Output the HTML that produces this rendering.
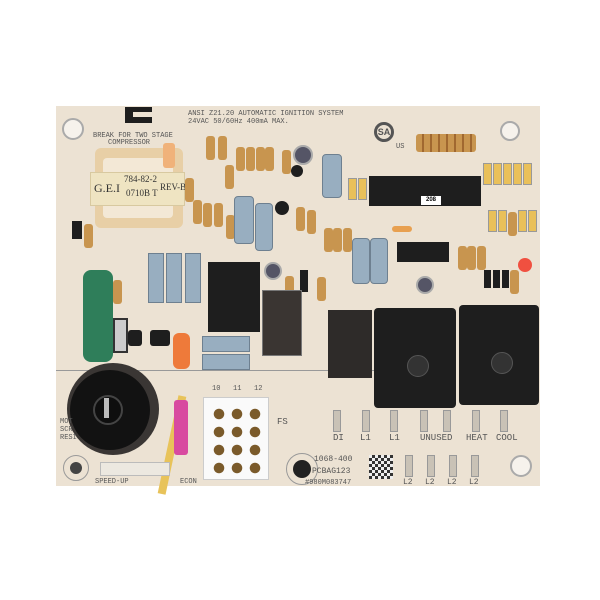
<!DOCTYPE html>
<html><head><style>
body{margin:0;width:600px;height:600px;background:#fff;position:relative;overflow:hidden;font-family:"Liberation Mono",monospace}
div{position:absolute;box-sizing:border-box}
.r{background:#c8954f;border-radius:3px}
.rv{width:9px;height:24px}
.rh{width:24px;height:9px}
.b{background:#98aec0;border:1px solid #6e8090}
.blk{background:#1e1e1e}
.t{font-size:8px;color:#555;white-space:nowrap}
.hole{border-radius:50%;border:2px solid #aaa;background:#f6f2ec}
.pin{width:8px;height:22px;background:#c9c2b6;border:1px solid #999}
.y{background:#e9c05a;width:9px;height:22px;border:1px solid #999}
</style></head><body>
<div style="left:56px;top:106px;width:484px;height:380px;background:#ece2d3"></div>
<div class="hole" style="left:62px;top:118px;width:22px;height:22px"></div>
<div class="hole" style="left:500px;top:121px;width:20px;height:20px"></div>
<div class="hole" style="left:510px;top:455px;width:22px;height:22px"></div>
<div style="left:286px;top:453px;width:32px;height:32px;border-radius:50%;border:1px solid #999"></div>
<div style="left:293px;top:460px;width:18px;height:18px;border-radius:50%;background:#222"></div>
<div style="left:63px;top:455px;width:26px;height:26px;border-radius:50%;border:1px solid #999"></div>
<div style="left:70px;top:462px;width:12px;height:12px;border-radius:50%;background:#444"></div>
<div class="t" style="left:188px;top:110px;font-size:7px">ANSI Z21.20 AUTOMATIC IGNITION SYSTEM</div>
<div class="t" style="left:188px;top:118px;font-size:7px">24VAC 50/60Hz 400mA MAX.</div>
<div class="t" style="left:93px;top:132px;font-size:7px">BREAK FOR TWO STAGE</div>
<div class="t" style="left:108px;top:139px;font-size:7px">COMPRESSOR</div>
<div class="blk" style="left:125px;top:107px;width:27px;height:16px"></div>
<div style="left:133px;top:112px;width:19px;height:5px;background:#ece2d3"></div>
<div style="left:95px;top:148px;width:88px;height:80px;background:#e8cfa6;border-radius:6px"></div>
<div style="left:103px;top:158px;width:70px;height:60px;background:#f3e8d6;border-radius:4px"></div>
<div style="left:90px;top:172px;width:95px;height:34px;background:#efe4c2;border:1px solid #d8c9a0"></div>
<div style="left:94px;top:181px;font:12px 'Liberation Serif',serif;color:#333">G.E.I</div>
<div style="left:124px;top:174px;font:9px 'Liberation Serif',serif;color:#333">784-82-2</div>
<div style="left:126px;top:188px;font:9px 'Liberation Serif',serif;color:#333">0710B T</div>
<div style="left:160px;top:182px;font:9px 'Liberation Serif',serif;color:#333">REV-B</div>
<div style="left:163px;top:143px;width:12px;height:25px;background:#f0b27a;border-radius:3px"></div>
<div class="r rv" style="left:206px;top:136px"></div><div class="r rv" style="left:218px;top:136px"></div>
<div class="r rv" style="left:236px;top:147px"></div><div class="r rv" style="left:246px;top:147px"></div><div class="r rv" style="left:256px;top:147px"></div><div class="r rv" style="left:265px;top:147px"></div>
<div class="r rv" style="left:225px;top:165px"></div>
<div class="r rv" style="left:282px;top:150px"></div>
<div class="r rv" style="left:193px;top:200px"></div><div class="r rv" style="left:203px;top:203px"></div><div class="r rv" style="left:214px;top:203px"></div>
<div class="r rv" style="left:226px;top:215px"></div>
<div class="r rv" style="left:185px;top:178px"></div>
<div class="b" style="left:234px;top:196px;width:20px;height:48px;border-radius:4px"></div>
<div class="b" style="left:255px;top:203px;width:18px;height:48px;border-radius:4px"></div>
<div class="blk" style="left:275px;top:201px;width:14px;height:14px;border-radius:50%"></div>
<div style="left:293px;top:145px;width:20px;height:20px;border-radius:50%;background:#556;border:2px solid #aaa"></div>
<div class="blk" style="left:291px;top:165px;width:12px;height:12px;border-radius:50%"></div>
<div class="b" style="left:322px;top:154px;width:20px;height:44px;border-radius:4px"></div>
<div class="y" style="left:348px;top:178px"></div><div class="y" style="left:358px;top:178px"></div>
<div class="r rv" style="left:296px;top:207px"></div><div class="r rv" style="left:307px;top:210px"></div><div class="r rv" style="left:324px;top:228px"></div><div class="r rv" style="left:333px;top:228px"></div><div class="r rv" style="left:343px;top:228px"></div><div class="r rv" style="left:317px;top:277px"></div>
<div class="blk" style="left:300px;top:270px;width:8px;height:22px"></div>
<div class="r rv" style="left:285px;top:276px"></div>
<div style="left:374px;top:122px;width:20px;height:20px;border:3px solid #555;border-radius:50%;font:bold 9px 'Liberation Sans',sans-serif;color:#555;text-align:center;line-height:14px">SA</div>
<div class="t" style="left:396px;top:143px;font-size:7px">US</div>
<div style="left:416px;top:134px;width:60px;height:18px;background:#c8954f;border-radius:3px;background-image:repeating-linear-gradient(90deg,#c8954f 0 6px,#a06830 6px 8px)"></div>
<div class="y" style="left:483px;top:163px"></div><div class="y" style="left:493px;top:163px"></div><div class="y" style="left:503px;top:163px"></div><div class="y" style="left:513px;top:163px"></div><div class="y" style="left:523px;top:163px"></div>
<div class="y" style="left:488px;top:210px"></div><div class="y" style="left:498px;top:210px"></div><div class="r rv" style="left:508px;top:212px"></div><div class="y" style="left:518px;top:210px"></div><div class="y" style="left:528px;top:210px"></div>
<div class="blk" style="left:369px;top:176px;width:112px;height:30px"></div>
<div style="left:421px;top:196px;width:20px;height:9px;background:#fff;font:bold 6px 'Liberation Sans',sans-serif;text-align:center;line-height:9px">208</div>
<div style="left:392px;top:226px;width:20px;height:6px;background:#e8a050;border-radius:3px"></div>
<div class="blk" style="left:397px;top:242px;width:52px;height:20px"></div>
<div class="r rv" style="left:458px;top:246px"></div><div class="r rv" style="left:467px;top:246px"></div><div class="r rv" style="left:477px;top:246px"></div>
<div style="left:518px;top:258px;width:14px;height:14px;border-radius:50%;background:#f05040"></div>
<div class="blk" style="left:484px;top:270px;width:7px;height:18px"></div><div class="blk" style="left:493px;top:270px;width:7px;height:18px"></div><div class="blk" style="left:502px;top:270px;width:7px;height:18px"></div><div class="r rv" style="left:510px;top:270px"></div>
<div class="b" style="left:352px;top:238px;width:18px;height:46px;border-radius:4px"></div>
<div class="b" style="left:370px;top:238px;width:18px;height:46px;border-radius:4px"></div>
<div style="left:416px;top:276px;width:18px;height:18px;border-radius:50%;background:#556;border:2px solid #aaa"></div>
<div style="left:264px;top:262px;width:18px;height:18px;border-radius:50%;background:#556;border:2px solid #aaa"></div>
<div class="blk" style="left:72px;top:221px;width:10px;height:18px"></div><div class="r rv" style="left:84px;top:224px"></div>
<div class="b" style="left:148px;top:253px;width:16px;height:50px"></div>
<div class="b" style="left:166px;top:253px;width:16px;height:50px"></div>
<div class="b" style="left:185px;top:253px;width:16px;height:50px"></div>
<div class="r rv" style="left:113px;top:280px"></div>
<div class="blk" style="left:208px;top:262px;width:52px;height:70px"></div>
<div style="left:262px;top:290px;width:40px;height:66px;background:#3a3532;border:1px solid #777"></div>
<div style="left:83px;top:270px;width:30px;height:92px;background:#2f7e5a;border-radius:8px"></div>
<div style="left:113px;top:318px;width:15px;height:35px;background:#ccc;border:2px solid #333"></div>
<div class="blk" style="left:128px;top:330px;width:14px;height:16px;border-radius:3px"></div>
<div class="blk" style="left:150px;top:330px;width:20px;height:16px;border-radius:3px"></div>
<div style="left:173px;top:333px;width:17px;height:36px;background:#ee7a3a;border-radius:6px"></div>
<div class="b" style="left:202px;top:336px;width:48px;height:16px"></div>
<div class="b" style="left:202px;top:354px;width:48px;height:16px"></div>
<div style="left:56px;top:370px;width:330px;height:1px;background:#999"></div>
<div style="left:67px;top:363px;width:92px;height:92px;border-radius:50%;background:#3a3634"></div>
<div style="left:70px;top:370px;width:80px;height:80px;border-radius:50%;background:#121212"></div>
<div style="left:93px;top:395px;width:30px;height:30px;border-radius:50%;border:2px solid #444;background:#0e0e0e"></div>
<div style="left:104px;top:398px;width:5px;height:20px;background:#bbb"></div>
<div style="left:168px;top:395px;width:8px;height:100px;background:#e8c35a;transform:rotate(12deg)"></div>
<div style="left:174px;top:400px;width:14px;height:55px;background:#d84aa0;border-radius:3px"></div>
<div style="left:100px;top:462px;width:70px;height:14px;background:#ece8e0;border:1px solid #bbb"></div>
<div class="t" style="left:95px;top:478px;font-size:7px">SPEED-UP</div>
<div class="t" style="left:60px;top:418px;font-size:7px;line-height:8px">MOT<br>SCR<br>RESI</div>
<div class="t" style="left:180px;top:478px;font-size:7px">ECON</div>
<div style="left:203px;top:397px;width:66px;height:83px;background:#fafafa;border:1px solid #ccc"></div>
<div class="t" style="left:212px;top:385px;font-size:7px">10 &nbsp; 11 &nbsp; 12</div>
<div style="left:210px;top:405px;width:54px;height:72px;background:radial-gradient(circle,#7a5a2a 0 5px,transparent 5.5px) 0 0/18px 18px"></div>
<div class="t" style="left:277px;top:417px;font-size:9px">FS</div>
<div class="blk" style="left:328px;top:310px;width:44px;height:68px;background:#2e2b29"></div>
<div class="blk" style="left:374px;top:308px;width:82px;height:100px;border-radius:4px"></div>
<div class="blk" style="left:459px;top:305px;width:80px;height:100px;border-radius:4px"></div>
<div style="left:407px;top:355px;width:22px;height:22px;border-radius:50%;background:#333;border:1px solid #555"></div>
<div style="left:491px;top:352px;width:22px;height:22px;border-radius:50%;background:#333;border:1px solid #555"></div>
<div class="pin" style="left:333px;top:410px"></div><div class="pin" style="left:362px;top:410px"></div><div class="pin" style="left:390px;top:410px"></div><div class="pin" style="left:420px;top:410px"></div><div class="pin" style="left:443px;top:410px"></div><div class="pin" style="left:472px;top:410px"></div><div class="pin" style="left:500px;top:410px"></div>
<div class="t" style="left:333px;top:433px;font-size:9px">DI</div>
<div class="t" style="left:360px;top:433px;font-size:9px">L1</div>
<div class="t" style="left:389px;top:433px;font-size:9px">L1</div>
<div class="t" style="left:420px;top:433px;font-size:9px">UNUSED</div>
<div class="t" style="left:466px;top:433px;font-size:9px">HEAT</div>
<div class="t" style="left:496px;top:433px;font-size:9px">COOL</div>
<div class="pin" style="left:405px;top:455px"></div><div class="pin" style="left:427px;top:455px"></div><div class="pin" style="left:449px;top:455px"></div><div class="pin" style="left:471px;top:455px"></div>
<div class="t" style="left:403px;top:478px;font-size:8px">L2</div><div class="t" style="left:425px;top:478px;font-size:8px">L2</div><div class="t" style="left:447px;top:478px;font-size:8px">L2</div><div class="t" style="left:469px;top:478px;font-size:8px">L2</div>
<div class="t" style="left:314px;top:455px;font-size:8px">1068-400</div>
<div class="t" style="left:312px;top:467px;font-size:8px">PCBAG123</div>
<div class="t" style="left:305px;top:479px;font-size:7px">#980M083747</div>
<div style="left:369px;top:455px;width:24px;height:24px;background:repeating-conic-gradient(#333 0 25%,#eee 0 50%) 0 0/6px 6px"></div>
</body></html>
